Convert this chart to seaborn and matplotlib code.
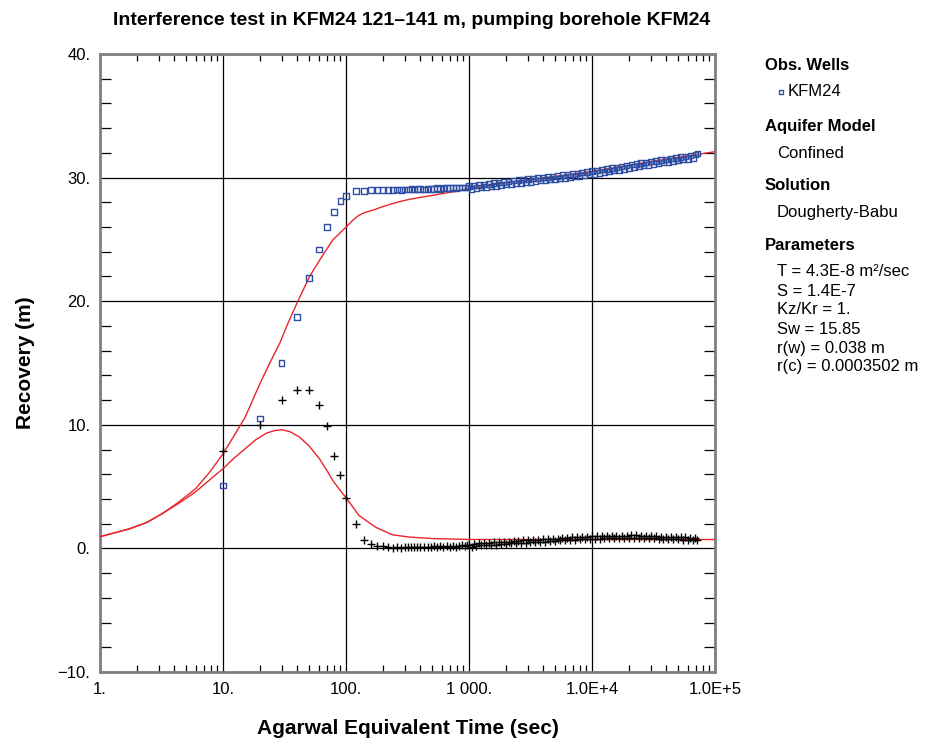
import matplotlib
matplotlib.use("Agg")
import matplotlib.pyplot as plt
import seaborn as sns
import pandas as pd
import numpy as np
from matplotlib.lines import Line2D
from matplotlib.ticker import FixedLocator, NullFormatter, LogLocator

# ---------------- data ----------------
obs_time = [10, 20, 30, 40, 50, 60, 70, 80, 90, 100,
            120, 140, 160, 180, 200, 220, 240, 260, 280, 300,
            320, 340, 360, 380, 400, 430, 460, 490, 520, 550,
            580, 620, 660, 700, 740, 780, 830, 880, 930, 970,
            1000, 1050, 1100, 1150, 1200, 1260, 1320, 1380, 1450, 1520,
            1590, 1660, 1740, 1820, 1910, 2000, 2100, 2200, 2300, 2400,
            2520, 2640, 2760, 2890, 3020, 3160, 3310, 3470, 3630, 3800,
            3980, 4170, 4370, 4570, 4790, 5010, 5250, 5500, 5750, 6030,
            6310, 6610, 6920, 7240, 7590, 7940, 8320, 8710, 9120, 9550,
            10000, 10500, 11000, 11500, 12000, 12600, 13200, 13800, 14500, 15100,
            15800, 16600, 17400, 18200, 19100, 20000, 20900, 21900, 22900, 24000,
            25100, 26300, 27500, 28800, 30200, 31600, 33100, 34700, 36300, 38000,
            39800, 41700, 43700, 45700, 47900, 50100, 52500, 55000, 57500, 60300,
            63100, 66100, 69200, 72000]

recovery = [5.1, 10.5, 15.0, 18.7, 21.9, 24.2, 26.0, 27.2, 28.1, 28.5,
            28.9, 28.9, 29.0, 29.0, 29.0, 29.0, 29.0, 29.05, 29.0, 29.05,
            29.05, 29.1, 29.05, 29.1, 29.1, 29.05, 29.1, 29.1, 29.1, 29.15,
            29.1, 29.15, 29.15, 29.15, 29.2, 29.15, 29.2, 29.2, 29.2, 29.2,
            29.32, 29.10, 29.37, 29.15, 29.42, 29.19, 29.46, 29.23, 29.50, 29.28,
            29.55, 29.33, 29.60, 29.38, 29.65, 29.44, 29.70, 29.48, 29.75, 29.53,
            29.79, 29.58, 29.84, 29.62, 29.88, 29.66, 29.93, 29.71, 29.97, 29.75,
            30.01, 29.79, 30.05, 29.84, 30.10, 29.88, 30.15, 29.93, 30.19, 29.98,
            30.24, 30.03, 30.29, 30.08, 30.35, 30.13, 30.40, 30.18, 30.45, 30.24,
            30.52, 30.31, 30.58, 30.37, 30.64, 30.43, 30.70, 30.49, 30.77, 30.56,
            30.83, 30.63, 30.90, 30.70, 30.98, 30.78, 31.05, 30.84, 31.11, 30.91,
            31.18, 30.97, 31.24, 31.03, 31.30, 31.09, 31.36, 31.15, 31.42, 31.21,
            31.48, 31.27, 31.54, 31.33, 31.60, 31.39, 31.66, 31.45, 31.72, 31.51,
            31.78, 31.58, 31.87, 31.95]

derivative = [7.9, 9.95, 12.0, 12.8, 12.8, 11.6, 9.9, 7.5, 5.95, 4.1,
              2.0, 0.7, 0.36, 0.2, 0.2, 0.1, 0.05, 0.1, 0.05, 0.1,
              0.1, 0.15, 0.1, 0.15, 0.1, 0.15, 0.1, 0.15, 0.2, 0.15,
              0.2, 0.15, 0.2, 0.15, 0.2, 0.15, 0.2, 0.25, 0.2, 0.25,
              0.3, 0.15, 0.35, 0.2, 0.4, 0.25, 0.4, 0.25, 0.45, 0.3,
              0.5, 0.3, 0.5, 0.35, 0.55, 0.35, 0.55, 0.4, 0.6, 0.4,
              0.6, 0.45, 0.65, 0.45, 0.65, 0.5, 0.7, 0.5, 0.7, 0.55,
              0.75, 0.55, 0.75, 0.6, 0.8, 0.6, 0.8, 0.65, 0.85, 0.65,
              0.85, 0.7, 0.9, 0.7, 0.9, 0.75, 0.95, 0.75, 0.95, 0.8,
              1.0, 0.8, 1.0, 0.8, 1.0, 0.85, 1.0, 0.85, 1.0, 0.85,
              1.0, 0.85, 1.0, 0.85, 1.0, 0.85, 1.05, 0.85, 1.05, 0.85,
              1.0, 0.85, 1.0, 0.85, 1.0, 0.85, 1.0, 0.8, 0.95, 0.8,
              0.95, 0.8, 0.95, 0.75, 0.9, 0.75, 0.9, 0.7, 0.9, 0.7,
              0.85, 0.7, 0.85, 0.7]

model_time = [1, 1.72, 2.4, 3.19, 4.3, 5.94, 7.7, 10, 12.1, 15.1, 19.9, 24, 28.9, 34,
              40.6, 50.5, 60.8, 78, 100, 115, 125, 136, 150, 170, 186, 230, 270, 330,
              400, 500, 600, 800, 1000, 2000, 5000, 10000, 30000, 100000]
model_recovery = [0.95, 1.57, 2.1, 2.8, 3.7, 4.8, 6.1, 7.65, 9.0, 10.6, 13.3, 15.0, 16.6,
                  18.3, 20.0, 22.0, 23.3, 24.95, 26.0, 26.6, 26.9, 27.1, 27.25, 27.4, 27.55,
                  27.85, 28.05, 28.25, 28.4, 28.55, 28.7, 28.9, 29.1, 29.6, 30.1, 30.5,
                  31.3, 32.1]

deriv_time = [1, 1.72, 2.4, 3.19, 4.3, 5.94, 7.7, 10, 12.3, 15.1, 18.5, 22.6, 26, 29.8,
              35, 41.9, 50, 60.8, 70, 78, 88, 100, 128, 175, 238, 325, 500, 1000, 100000]
model_derivative = [0.95, 1.57, 2.1, 2.8, 3.6, 4.55, 5.5, 6.45, 7.3, 8.06, 8.8, 9.33, 9.52,
                    9.6, 9.45, 9.0, 8.3, 7.25, 6.3, 5.5, 4.8, 4.1, 2.65, 1.7, 1.1, 0.92,
                    0.8, 0.72, 0.72]

x_ticks = [1, 10, 100, 1000, 10000, 100000]
x_labels = ["1.", "10.", "100.", "1 000.", "1.0E+4", "1.0E+5"]
y_ticks = [-10, 0, 10, 20, 30, 40]
y_labels = ["\u221210.", "0.", "10.", "20.", "30.", "40."]

title = "Interference test in KFM24 121\u2013141 m, pumping borehole KFM24"

# ---------------- plot ----------------
sns.set_style("white")
plt.rcParams["font.family"] = ["Liberation Sans", "DejaVu Sans"]
plt.rcParams["text.color"] = "black"
plt.rcParams["axes.labelcolor"] = "black"
plt.rcParams["xtick.color"] = "black"
plt.rcParams["ytick.color"] = "black"

fig = plt.figure(figsize=(9.39, 7.40), dpi=100)
ax = fig.add_axes([0.1065, 0.0919, 0.655, 0.8351])

obs = pd.DataFrame({"t": obs_time, "rec": recovery, "der": derivative})
mrec = pd.DataFrame({"t": model_time, "v": model_recovery})
mder = pd.DataFrame({"t": deriv_time, "v": model_derivative})

ax.set_xscale("log")
sns.lineplot(data=mrec, x="t", y="v", ax=ax, color="#e8262b", lw=1.0, sort=False, zorder=3)
sns.lineplot(data=mder, x="t", y="v", ax=ax, color="#e8262b", lw=1.0, sort=False, zorder=3)
sns.scatterplot(data=obs, x="t", y="rec", ax=ax, marker="s", s=16,
                facecolor="none", edgecolor="#2d4ea3", linewidth=1.0, zorder=4)
sns.scatterplot(data=obs, x="t", y="der", ax=ax, marker="+", s=30,
                color="black", linewidth=1.0, zorder=4)

ax.set_xlim(1, 100000)
ax.set_ylim(-10, 40)
ax.set_xticks(x_ticks)
ax.set_xticklabels(x_labels)
ax.set_yticks(y_ticks)
ax.set_yticklabels(y_labels)
ax.xaxis.set_minor_locator(LogLocator(base=10, subs=np.arange(2, 10)))
ax.xaxis.set_minor_formatter(NullFormatter())
ax.yaxis.set_minor_locator(FixedLocator(np.arange(-10, 41, 2)))

ax.grid(True, which="major", color="black", lw=0.9)
ax.tick_params(which="major", length=0, labelsize=12, pad=7, colors="black")
ax.tick_params(which="minor", direction="in", top=True, right=True, bottom=True, left=True,
               color="black", width=0.9)
ax.tick_params(axis="x", which="minor", length=5)
ax.tick_params(axis="y", which="minor", length=8)
for sp in ax.spines.values():
    sp.set_color("#7f7f7f")
    sp.set_linewidth(2)

ax.set_xlabel("Agarwal Equivalent Time (sec)", fontsize=15, fontweight="bold", labelpad=16)
ax.set_ylabel("Recovery (m)", fontsize=15, fontweight="bold", labelpad=16)
fig.text(0.4385, 0.972, title, fontsize=14, fontweight="bold", ha="center", va="center")

# ---------------- side panel ----------------
W, H = 939, 740
def ft(x, y, s, bold=False):
    fig.text(x / W, 1 - y / H, s, fontsize=12, fontweight="bold" if bold else "normal",
             ha="left", va="center", color="black")

ft(765, 66, "Obs. Wells", True)
fig.add_artist(Line2D([781 / W], [1 - 92 / H], marker="s", markersize=3.5, mfc="none",
                      mec="#2d4ea3", mew=1.0, ls="none", transform=fig.transFigure))
ft(788, 92, "KFM24")
ft(765, 127, "Aquifer Model", True)
ft(777, 153, "Confined")
ft(765, 186, "Solution", True)
ft(777, 213, "Dougherty-Babu")
ft(765, 246, "Parameters", True)
ft(777, 272, "T = 4.3E-8 m\u00b2/sec")
ft(777, 291, "S = 1.4E-7")
ft(777, 310, "Kz/Kr = 1.")
ft(777, 329, "Sw = 15.85")
ft(777, 348, "r(w) = 0.038 m")
ft(777, 367, "r(c) = 0.0003502 m")

fig.savefig("out.png", dpi=100)
